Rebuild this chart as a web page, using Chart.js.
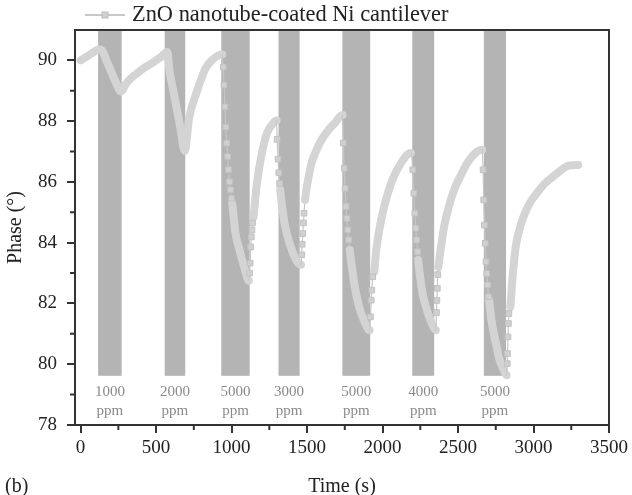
<!DOCTYPE html>
<html>
<head>
<meta charset="utf-8">
<script src="https://cdn.jsdelivr.net/npm/chart.js@4.4.0/dist/chart.umd.min.js"></script>
<style>
  html, body { margin: 0; padding: 0; background: #fff; }
  #wrap { width: 632px; height: 495px; }
</style>
</head>
<body>
<div id="wrap"><canvas id="phaseChart" width="632" height="495"></canvas></div>
<script>
// gas exposure windows (s) and their concentrations
const exposureStart = [116, 557, 932, 1311, 1734, 2197, 2671];
const exposureEnd = [272, 693, 1120, 1451, 1918, 2342, 2818];
const concentrations = ['1000', '2000', '5000', '3000', '5000', '4000', '5000'];

// densely sampled part of the phase trace
const trendTime = [0, 40, 80, 120, 140, 175, 210, 240, 262, 278, 300, 335, 368, 430, 478, 530, 575,
  588, 610, 632, 660, 690, 719, 763, 800, 829, 880, 938,
  1004, 1026, 1048, 1070, 1095, 1114, 1145, 1168, 1201, 1234, 1270, 1298,
  1322, 1340, 1355, 1377, 1399, 1421, 1443, 1460, 1487, 1508, 1530, 1563, 1596, 1640, 1684, 1735,
  1783, 1800, 1816, 1837, 1859, 1885, 1914, 1945, 1958, 1991, 2057, 2122, 2188,
  2236, 2250, 2265, 2287, 2309, 2330, 2353, 2370, 2390, 2408, 2440, 2474, 2517, 2561, 2627, 2660,
  2706, 2720, 2737, 2755, 2770, 2787, 2803, 2822, 2846, 2862, 2879, 2905, 2934, 2975, 3022, 3075, 3132, 3175, 3219, 3260, 3296];
const trendPhase = [90.00, 90.12, 90.25, 90.36, 90.34, 89.95, 89.55, 89.20, 88.98, 89.02, 89.22, 89.42, 89.55, 89.78, 89.93, 90.10, 90.28,
  89.70, 89.10, 88.55, 87.80, 87.02, 88.10, 88.87, 89.40, 89.75, 90.05, 90.19,
  85.30, 84.31, 83.85, 83.43, 83.00, 82.75, 84.85, 85.96, 86.95, 87.60, 87.90, 88.02,
  85.74, 85.00, 84.53, 84.10, 83.76, 83.50, 83.32, 83.27, 85.41, 86.10, 86.62, 87.05, 87.39, 87.70, 87.94, 88.20,
  83.76, 83.10, 82.55, 82.05, 81.67, 81.35, 81.12, 83.05, 83.76, 84.75, 85.96, 86.62, 86.95,
  83.43, 82.85, 82.33, 81.90, 81.56, 81.30, 81.12, 83.20, 83.95, 84.53, 85.20, 85.74, 86.20, 86.62, 87.00, 87.06,
  82.11, 81.50, 81.01, 80.60, 80.24, 79.98, 79.80, 79.64, 81.89, 82.90, 83.76, 84.40, 84.86, 85.30, 85.63, 85.95, 86.18, 86.36, 86.51, 86.55, 86.56];

// sparse samples taken during the fast jumps at gas on / off
const stepTime = [945, 950, 956, 962, 968, 974, 980, 986, 993, 999,
  1119, 1123, 1127, 1131, 1135, 1139,
  1302, 1308, 1313, 1318,
  1465, 1468, 1472, 1476, 1480,
  1740, 1746, 1752, 1758, 1764, 1770, 1776,
  1920, 1925, 1929, 1935,
  2200, 2207, 2214, 2220, 2226, 2232,
  2357, 2360, 2363, 2366,
  2666, 2670, 2675, 2680, 2685, 2690, 2696, 2702,
  2826, 2828, 2831, 2834, 2837];
const stepPhase = [89.78, 89.19, 88.47, 87.81, 87.28, 86.84, 86.40, 86.01, 85.74, 85.46,
  83.00, 83.33, 83.86, 84.19, 84.42, 84.65,
  87.40, 86.75, 86.30, 85.95,
  83.60, 83.95, 84.30, 84.65, 84.97,
  87.28, 86.45, 85.79, 85.19, 84.80, 84.42, 84.09,
  81.56, 82.11, 82.44, 82.88,
  86.40, 85.63, 84.97, 84.48, 84.09, 83.70,
  81.70, 82.10, 82.50, 82.95,
  86.40, 85.41, 84.58, 83.98, 83.37, 82.99, 82.61, 82.22,
  80.02, 80.35, 80.90, 81.34, 81.67];

const timeTicks = [0, 500, 1000, 1500, 2000, 2500, 3000, 3500];
const phaseTicks = [78, 80, 82, 84, 86, 88, 90];

const seriesLabel = 'ZnO nanotube-coated Ni cantilever';
const shadeFloor = 79.62; // bottom of the grey exposure bands, in phase units

const points = trendTime.map((t, i) => ({ x: t, y: trendPhase[i], step: false }))
  .concat(stepTime.map((t, i) => ({ x: t, y: stepPhase[i], step: true })))
  .sort((a, b) => a.x - b.x);

const serif = "'Liberation Serif', 'Times New Roman', serif";
Chart.defaults.font.family = serif;
Chart.defaults.color = '#222';

const decor = {
  id: 'decor',
  beforeDatasetsDraw(chart) {
    const { ctx, chartArea: a, scales: { x, y } } = chart;
    const yb = y.getPixelForValue(shadeFloor);
    ctx.save();
    exposureStart.forEach((s, i) => {
      const x0 = x.getPixelForValue(s);
      const x1 = x.getPixelForValue(exposureEnd[i]);
      ctx.fillStyle = '#b4b4b4';
      ctx.fillRect(x0, a.top, x1 - x0, yb - a.top);
      ctx.fillStyle = '#8a8a8a';
      ctx.font = '15px ' + serif;
      ctx.textAlign = 'center';
      ctx.textBaseline = 'middle';
      ctx.fillText(concentrations[i], (x0 + x1) / 2, yb + 16);
      ctx.fillText('ppm', (x0 + x1) / 2, yb + 35);
    });
    ctx.restore();
  },
  afterDraw(chart) {
    const { ctx, chartArea: a, scales: { x, y } } = chart;
    ctx.save();
    // frame
    ctx.strokeStyle = '#333';
    ctx.lineWidth = 2;
    ctx.strokeRect(a.left, a.top, a.right - a.left, a.bottom - a.top);
    // minor ticks
    ctx.beginPath();
    timeTicks.forEach(v => {
      const m = v + 250;
      if (m < x.max) {
        const px = x.getPixelForValue(m);
        ctx.moveTo(px, a.bottom);
        ctx.lineTo(px, a.bottom + 5);
      }
    });
    phaseTicks.forEach(v => {
      const m = v + 1;
      if (m < y.max) {
        const py = y.getPixelForValue(m);
        ctx.moveTo(a.left, py);
        ctx.lineTo(a.left - 5, py);
      }
    });
    ctx.stroke();
    // legend
    const ly = 15;
    ctx.strokeStyle = '#c8c8c8';
    ctx.lineWidth = 2;
    ctx.beginPath();
    ctx.moveTo(85, ly);
    ctx.lineTo(125, ly);
    ctx.stroke();
    ctx.fillStyle = '#d0d0d0';
    ctx.fillRect(102, ly - 3, 6, 6);
    ctx.strokeStyle = '#bdbdbd';
    ctx.lineWidth = 1;
    ctx.strokeRect(102, ly - 3, 6, 6);
    ctx.fillStyle = '#222';
    ctx.font = '22.4px ' + serif;
    ctx.textAlign = 'left';
    ctx.textBaseline = 'middle';
    ctx.fillText(seriesLabel, 132, ly);
    // panel letter
    ctx.font = '20px ' + serif;
    ctx.fillText('(b)', 5, 487);
    ctx.restore();
  }
};

new Chart(document.getElementById('phaseChart'), {
  type: 'line',
  data: {
    datasets: [{
      label: seriesLabel,
      data: points,
      borderColor: '#d4d4d4',
      backgroundColor: '#d0d0d0',
      borderWidth: 8,
      borderCapStyle: 'round',
      borderJoinStyle: 'round',
      cubicInterpolationMode: 'monotone',
      pointStyle: 'rect',
      pointRadius: c => (c.raw && c.raw.step ? 4 : 0),
      pointBorderColor: '#c2c2c2',
      pointBorderWidth: 1,
      pointHoverRadius: 0,
      segment: {
        borderWidth: c => (points[c.p0DataIndex].step || points[c.p1DataIndex].step ? 1.2 : 8),
        borderColor: c => (points[c.p0DataIndex].step || points[c.p1DataIndex].step ? '#c6c6c6' : '#d4d4d4')
      }
    }]
  },
  options: {
    responsive: false,
    animation: false,
    events: [],
    layout: { padding: { top: 30, right: 20, bottom: 0, left: 0 } },
    plugins: {
      legend: { display: false },
      tooltip: { enabled: false }
    },
    scales: {
      x: {
        type: 'linear',
        min: -37,
        max: 3500,
        afterFit: s => { s.height = 70; },
        afterBuildTicks: s => { s.ticks = timeTicks.map(v => ({ value: v })); },
        grid: { drawOnChartArea: false, color: '#333', lineWidth: 2, tickLength: 8 },
        border: { color: '#333', width: 2 },
        ticks: { font: { size: 19 }, color: '#222', padding: 4, maxRotation: 0, callback: v => String(v) },
        title: { display: true, text: 'Time (s)', font: { size: 20, lineHeight: 0.8 }, padding: 0, color: '#222' }
      },
      y: {
        min: 78,
        max: 91,
        afterFit: s => { s.width = 75; },
        afterBuildTicks: s => { s.ticks = phaseTicks.map(v => ({ value: v })); },
        grid: { drawOnChartArea: false, color: '#333', lineWidth: 2, tickLength: 8 },
        border: { color: '#333', width: 2 },
        ticks: { font: { size: 19 }, color: '#222', padding: 10, callback: v => String(v) },
        title: { display: true, text: 'Phase (°)', font: { size: 20, lineHeight: 1 }, padding: { top: 6, bottom: 0 }, color: '#222' }
      }
    }
  },
  plugins: [decor]
});
</script>
</body>
</html>
